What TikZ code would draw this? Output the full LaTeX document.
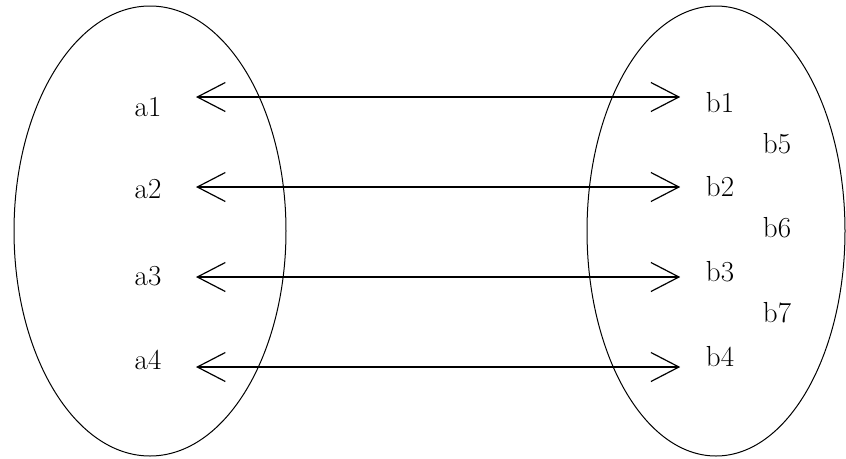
\documentclass[tikz,border=0pt]{standalone}
\usepackage{tikz}
\usetikzlibrary{arrows.meta}

\begin{document}
\begin{tikzpicture}[
  x=1pt, y=-1pt,
  elem/.style={inner sep=0pt,font=\fontsize{29}{30}\selectfont},
  setline/.style={line width=1pt},
  link/.style={line width=1.2pt,{Straight Barb[length=28pt,width=29pt,line width=1.2pt]}-{Straight Barb[length=28pt,width=29pt,line width=1.2pt]}}
]
  \useasboundingbox (0,0) rectangle (846,458);
  \draw[setline] (150,231) ellipse [x radius=136pt, y radius=225pt];
  \draw[setline] (716,231) ellipse [x radius=129pt, y radius=225pt];
  \node[elem] (a1) at (148,107) {a1};
  \node[elem] (a2) at (148,189) {a2};
  \node[elem] (a3) at (148,276) {a3};
  \node[elem] (a4) at (148,360) {a4};
  \node[elem] (b1) at (720,103) {b1};
  \node[elem] (b2) at (720,187) {b2};
  \node[elem] (b3) at (720,272) {b3};
  \node[elem] (b4) at (720,357) {b4};
  \node[elem] (b5) at (777,144) {b5};
  \node[elem] (b6) at (777,228) {b6};
  \node[elem] (b7) at (777,313) {b7};
  \draw[link] ([xshift=34.5pt]a1.east |- 0,97) -- ([xshift=-25.5pt]b1.west |- 0,97);
  \draw[link] ([xshift=34.5pt]a2.east |- 0,187) -- ([xshift=-25.5pt]b2.west |- 0,187);
  \draw[link] ([xshift=34.5pt]a3.east |- 0,277) -- ([xshift=-25.5pt]b3.west |- 0,277);
  \draw[link] ([xshift=34.5pt]a4.east |- 0,367) -- ([xshift=-25.5pt]b4.west |- 0,367);
\end{tikzpicture}
\end{document}
